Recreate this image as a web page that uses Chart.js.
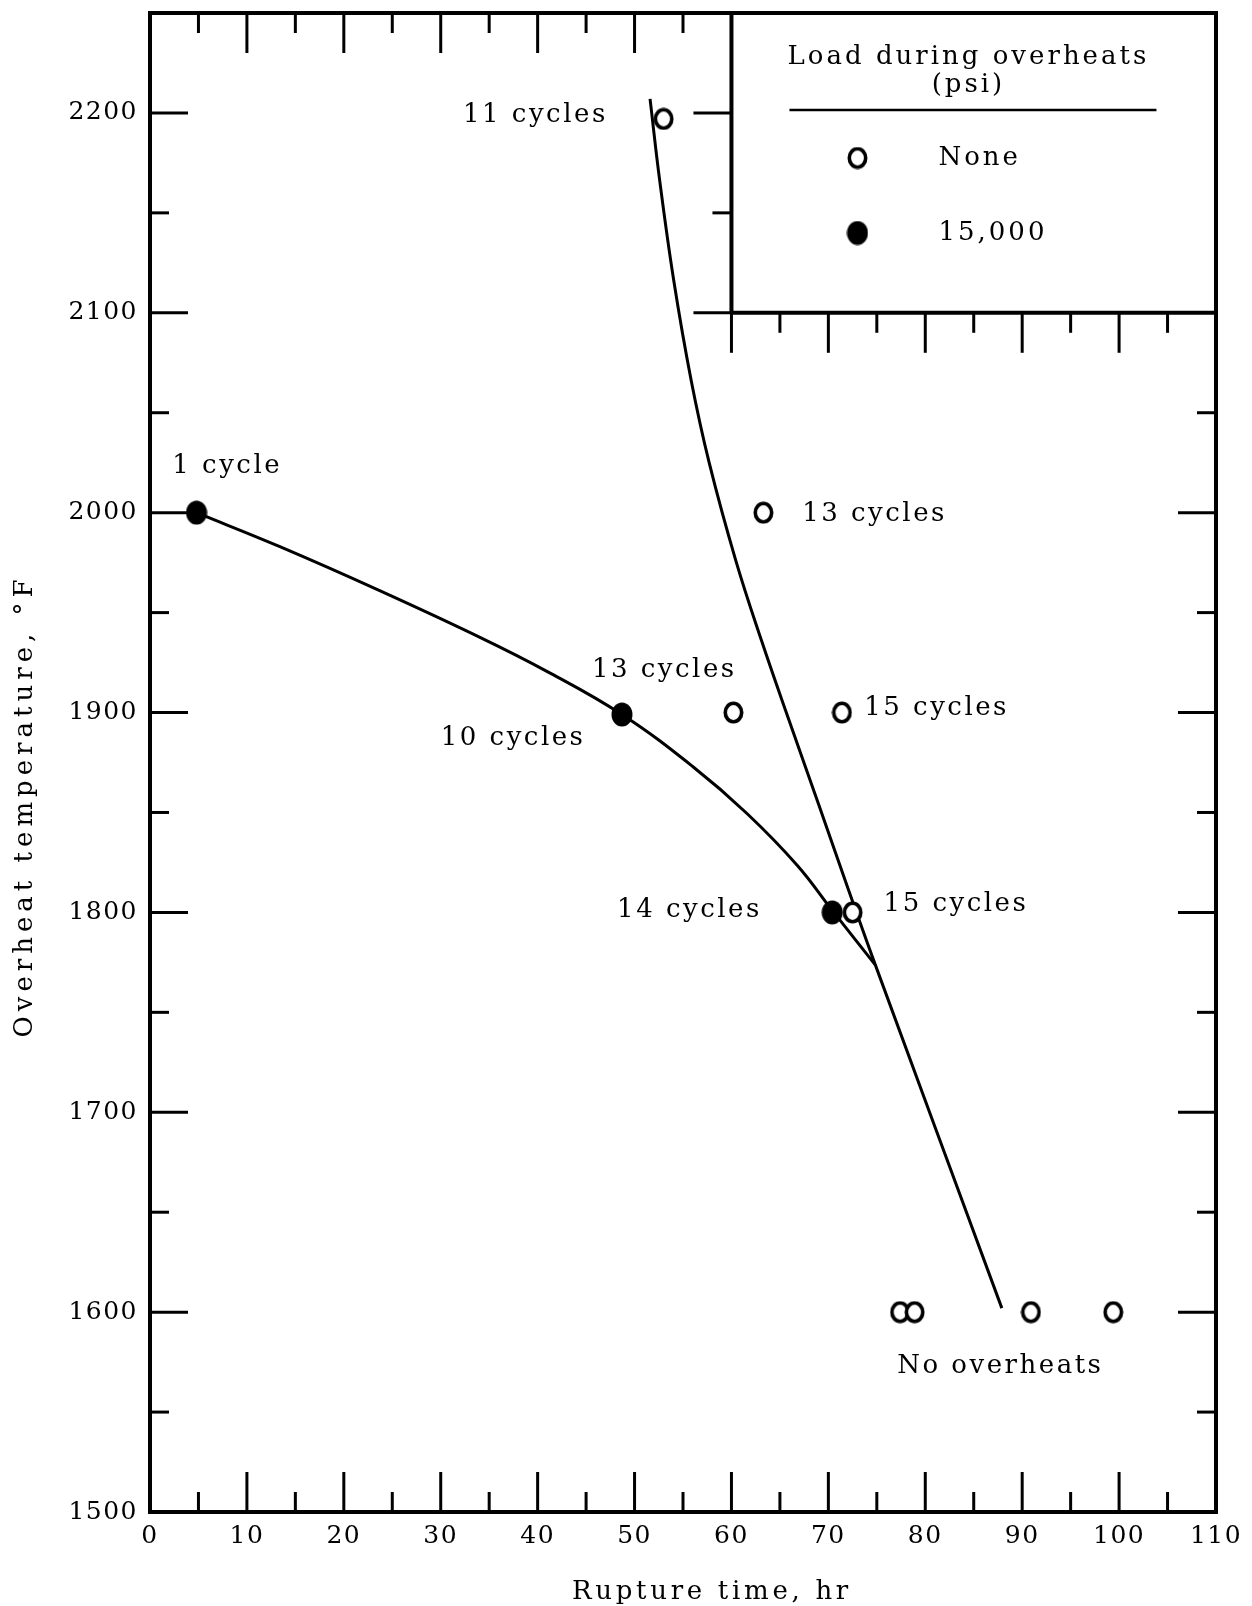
<!DOCTYPE html>
<html>
<head>
<meta charset="utf-8">
<title>Rupture time vs overheat temperature</title>
<script src="https://cdn.jsdelivr.net/npm/chart.js@4.4.1/dist/chart.umd.min.js"></script>
<style>
  html, body { margin: 0; padding: 0; background: #fff; }
  canvas { display: block; }
</style>
</head>
<body>
<canvas id="ruptureChart" width="1252" height="1606"></canvas>
<script>
// specimens overheated with no load
const noLoadTimes = [53.0, 63.3, 60.2, 71.4, 72.5, 77.4, 78.9, 90.9, 99.4];
const noLoadTemps = [2197, 2000, 1900, 1900, 1800, 1600, 1600, 1600, 1600];

// specimens overheated under 15,000 psi
const loadedTimes = [4.8, 48.7, 70.4];
const loadedTemps = [2000, 1899, 1800];

// faired curve through the loaded specimens
const loadedCurveTimes = [4.8, 13.4, 23.7, 34.1, 41.0, 48.7, 56.0, 61.6, 66.8, 70.4, 74.8];
const loadedCurveTemps = [2000, 1983, 1961, 1937.5, 1920.5, 1899, 1873, 1849.5, 1823.5, 1801, 1774];

// faired curve through the unloaded specimens
const noLoadCurveTimes = [51.6, 52.6, 54.05, 55.85, 57.7, 60.45, 63.1, 65.95, 69.0, 72.1, 74.6, 87.9];
const noLoadCurveTemps = [2207, 2166, 2116, 2066, 2025, 1976, 1936, 1896, 1854, 1811, 1777, 1602];

const timeTicks = [0, 10, 20, 30, 40, 50, 60, 70, 80, 90, 100, 110];
const tempTicks = [1500, 1600, 1700, 1800, 1900, 2000, 2100, 2200];

const pointNotes = [
  { text: '11 cycles', time: 32.3, temp: 2199 },
  { text: '1 cycle', time: 2.3, temp: 2023 },
  { text: '13 cycles', time: 67.3, temp: 1999 },
  { text: '13 cycles', time: 45.6, temp: 1921 },
  { text: '10 cycles', time: 30.0, temp: 1887 },
  { text: '15 cycles', time: 73.7, temp: 1902 },
  { text: '14 cycles', time: 48.2, temp: 1801 },
  { text: '15 cycles', time: 75.7, temp: 1804 },
  { text: 'No overheats', time: 77.1, temp: 1573 }
];

const legendTitle = ['Load during overheats', '(psi)'];
const legendLabels = ['None', '15,000'];

const FONT = 'DejaVu Serif';
Chart.defaults.font.family = FONT;
Chart.defaults.color = '#000';

function toPoints(xs, ys) {
  return xs.map((x, i) => ({ x: x, y: ys[i] }));
}

// slightly tall ellipses, like the hand-drawn symbols
function markerImage(w, h, lineWidth, filled) {
  const c = document.createElement('canvas');
  c.width = w;
  c.height = h;
  const g = c.getContext('2d');
  const lw = filled ? 0 : lineWidth;
  g.beginPath();
  g.ellipse(w / 2, h / 2, w / 2 - lw / 2 - 0.5, h / 2 - lw / 2 - 0.5, 0, 0, Math.PI * 2);
  g.fillStyle = filled ? '#000' : '#fff';
  g.fill();
  if (!filled) {
    g.lineWidth = lineWidth;
    g.strokeStyle = '#000';
    g.stroke();
  }
  return c;
}
const openMarker = markerImage(21, 23, 3.6, false);
const solidMarker = markerImage(22, 25, 0, true);

const plotFrame = {
  id: 'plotFrame',
  beforeDraw(chart) {
    chart.ctx.letterSpacing = '1.5px';
  },
  afterDraw(chart) {
    const { ctx, chartArea: a } = chart;
    const x = chart.scales.x;
    const y = chart.scales.y;
    const boxLeft = x.getPixelForValue(60);
    const boxBottom = y.getPixelForValue(2100);

    ctx.save();
    ctx.strokeStyle = '#000';
    ctx.fillStyle = '#000';
    ctx.lineCap = 'butt';

    const seg = (x1, y1, x2, y2) => {
      ctx.beginPath();
      ctx.moveTo(x1, y1);
      ctx.lineTo(x2, y2);
      ctx.stroke();
    };

    // frame and legend box
    ctx.lineWidth = 4;
    ctx.strokeRect(a.left, a.top, a.right - a.left, a.bottom - a.top);
    seg(boxLeft, a.top, boxLeft, boxBottom);
    seg(boxLeft, boxBottom, a.right, boxBottom);

    // tick marks every 5 hr
    ctx.lineWidth = 3;
    for (let t = 5; t < 110; t += 5) {
      const px = x.getPixelForValue(t);
      const len = t % 10 === 0 ? 40 : 20;
      seg(px, a.bottom, px, a.bottom - len);
      if (t < 60) {
        seg(px, a.top, px, a.top + len);
      } else {
        seg(px, boxBottom, px, boxBottom + len);
      }
    }
    // tick marks every 50 F
    for (let v = 1550; v <= 2200; v += 50) {
      const py = y.getPixelForValue(v);
      const len = v % 100 === 0 ? 38 : 19;
      seg(a.left, py, a.left + len, py);
      if (v < 2100) {
        seg(a.right, py, a.right - len, py);
      } else {
        seg(boxLeft, py, boxLeft - len, py);
      }
    }

    // legend
    ctx.font = '26px ' + FONT;
    ctx.letterSpacing = '3px';
    ctx.textBaseline = 'middle';
    ctx.textAlign = 'center';
    ctx.fillText(legendTitle[0], boxLeft + 237, a.top + 44);
    ctx.fillText(legendTitle[1], boxLeft + 237, a.top + 72);
    ctx.lineWidth = 2.5;
    seg(boxLeft + 58, a.top + 97, boxLeft + 425, a.top + 97);
    ctx.drawImage(openMarker, boxLeft + 126 - openMarker.width / 2, a.top + 145 - openMarker.height / 2);
    ctx.drawImage(solidMarker, boxLeft + 126 - solidMarker.width / 2, a.top + 220 - solidMarker.height / 2);
    ctx.textAlign = 'left';
    ctx.fillText(legendLabels[0], boxLeft + 207, a.top + 145);
    ctx.fillText(legendLabels[1], boxLeft + 207, a.top + 220);

    // cycle counts beside the points
    ctx.letterSpacing = '2.5px';
    pointNotes.forEach(n => {
      ctx.fillText(n.text, x.getPixelForValue(n.time), y.getPixelForValue(n.temp));
    });

    // axis titles
    ctx.textAlign = 'center';
    ctx.letterSpacing = '3.7px';
    ctx.fillText('Rupture time, hr', 712, 1592);
    ctx.letterSpacing = '5px';
    ctx.translate(25, 806);
    ctx.rotate(-Math.PI / 2);
    ctx.fillText('Overheat temperature, °F', 0, 0);
    ctx.restore();
  }
};

const ctx = document.getElementById('ruptureChart').getContext('2d');

new Chart(ctx, {
  type: 'scatter',
  data: {
    datasets: [
      {
        label: 'None',
        data: toPoints(noLoadTimes, noLoadTemps),
        pointStyle: openMarker,
        pointRadius: 10,
        order: 0
      },
      {
        label: '15,000',
        data: toPoints(loadedTimes, loadedTemps),
        pointStyle: solidMarker,
        pointRadius: 10,
        order: 1
      },
      {
        label: 'loaded curve',
        data: toPoints(loadedCurveTimes, loadedCurveTemps),
        showLine: true,
        pointRadius: 0,
        borderColor: '#000',
        borderWidth: 3,
        tension: 0.4,
        order: 2
      },
      {
        label: 'unloaded curve',
        data: toPoints(noLoadCurveTimes, noLoadCurveTemps),
        showLine: true,
        pointRadius: 0,
        borderColor: '#000',
        borderWidth: 3,
        tension: 0.4,
        order: 2
      }
    ]
  },
  options: {
    responsive: false,
    animation: false,
    events: [],
    layout: { padding: { top: 13, right: 36, left: 0, bottom: 0 } },
    plugins: {
      legend: { display: false },
      tooltip: { enabled: false }
    },
    scales: {
      x: {
        type: 'linear',
        min: 0,
        max: 110,
        afterBuildTicks: scale => { scale.ticks = timeTicks.map(v => ({ value: v })); },
        afterFit: scale => {
          scale.height = 94;
          scale.paddingLeft = 0;
          scale.paddingRight = 0;
        },
        grid: { display: false, drawTicks: false, tickLength: 0 },
        border: { display: false },
        ticks: {
          autoSkip: false,
          maxRotation: 0,
          padding: 9,
          font: { size: 25 },
          callback: v => String(v)
        }
      },
      y: {
        type: 'linear',
        min: 1500,
        max: 2250,
        afterBuildTicks: scale => { scale.ticks = tempTicks.map(v => ({ value: v })); },
        afterFit: scale => {
          scale.width = 150;
          scale.paddingTop = 0;
          scale.paddingBottom = 0;
        },
        grid: { display: false, drawTicks: false, tickLength: 0 },
        border: { display: false },
        ticks: {
          autoSkip: false,
          padding: 12,
          font: { size: 25 },
          callback: v => String(v)
        }
      }
    }
  },
  plugins: [plotFrame]
});
</script>
</body>
</html>
